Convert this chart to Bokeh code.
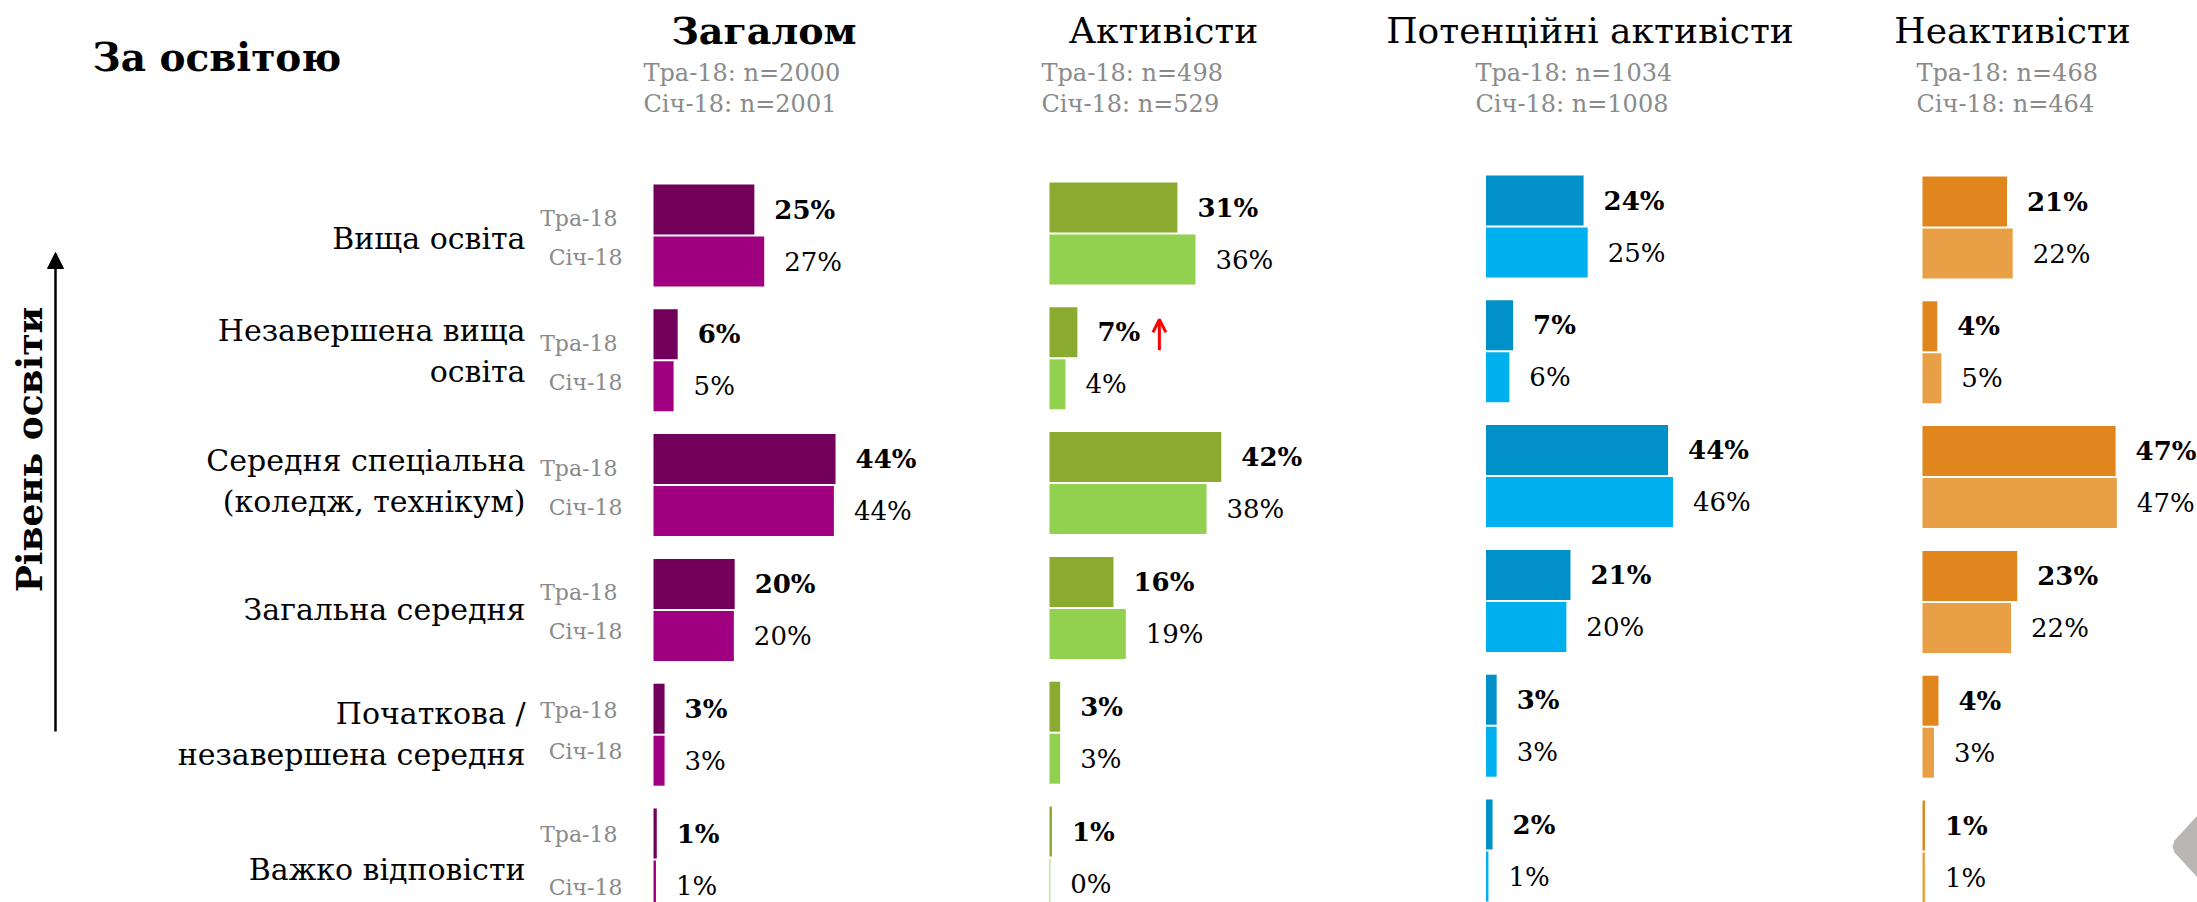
from math import pi
from bokeh.plotting import figure
from bokeh.models import Range1d, ColumnDataSource, Arrow, NormalHead, OpenHead
from bokeh.embed import file_html
from bokeh.resources import INLINE
from bokeh.core.properties import value

# ---------------- data ----------------
page_title = "За освітою"
axis_title = "Рівень освіти"
category_lines = [
    ["Вища освіта"],
    ["Незавершена вища", "освіта"],
    ["Середня спеціальна", "(коледж, технікум)"],
    ["Загальна середня"],
    ["Початкова /", "незавершена середня"],
    ["Важко відповісти"],
]
periods = ["Тра-18", "Січ-18"]
groups = ["Загалом", "Активісти", "Потенційні активісти", "Неактивісти"]
n_may = [2000, 498, 1034, 468]
n_jan = [2001, 529, 1008, 464]

overall_may = [24.6, 5.9, 44.4, 19.8, 2.7, 0.8]
overall_jan = [27.0, 4.9, 44.0, 19.6, 2.7, 0.6]
active_may = [31.2, 6.8, 41.9, 15.6, 2.6, 0.6]
active_jan = [35.6, 3.9, 38.3, 18.6, 2.6, 0.2]
potential_may = [23.8, 6.6, 44.4, 20.6, 2.6, 1.6]
potential_jan = [24.8, 5.7, 45.6, 19.6, 2.6, 0.6]
inactive_may = [20.6, 3.6, 47.1, 23.1, 3.9, 0.6]
inactive_jan = [22.0, 4.6, 47.4, 21.6, 2.8, 0.6]

# ---------------- styles / layout ----------------
FONT = "DejaVu Serif"
W, H = 2197, 902
PX = 4.1          # pixels per percent point
ROW = 124.8
BAR_H = 50
GAP = 2
LABEL_GAP = 20

may_colors = ["#72005A", "#8AAB2F", "#0091C9", "#E0861C"]
jan_colors = ["#A0007F", "#92D050", "#00B0EE", "#E99F45"]
panel_left_px = [653, 1049, 1485.5, 1922]
panel_top_px = [184, 182, 175, 176]
title_cx_px = [763.5, 1163, 1589.5, 2012]
sub_left_px = [643, 1041, 1475, 1916]
cat_nudge = [3, -9, -4, 0, -1, 10]
may_lab_dy = [-17, -17, -17, -17, -24, -25]
jan_lab_dy = [22, 22, 22, 22, 17, 28]

data = [
    (overall_may, overall_jan),
    (active_may, active_jan),
    (potential_may, potential_jan),
    (inactive_may, inactive_jan),
]


def fmt(v):
    return f"{int(v + 0.5)}%"


def X(px):
    return px / PX


p = figure(width=W, height=H, x_range=Range1d(0, X(W)),
           y_range=Range1d(H, 0), output_backend="svg",
           toolbar_location=None, min_border=0)
p.axis.visible = False
p.grid.visible = False
p.outline_line_color = None
p.background_fill_color = "white"

# page title
p.text(x=[X(92)], y=[56], text=[page_title], text_font=value(FONT),
       text_font_size="39px", text_font_style="bold", text_color="black",
       text_align="left", text_baseline="middle")

# panels
for g, (name, vals_pair) in enumerate(zip(groups, data)):
    left = X(panel_left_px[g])
    p.text(x=[X(title_cx_px[g])], y=[30], text=[name], text_font=value(FONT),
           text_font_size="38px" if g == 0 else "36px",
           text_font_style="bold" if g == 0 else "normal",
           text_color="black", text_align="center", text_baseline="middle")
    p.text(x=[X(sub_left_px[g])] * 2, y=[72.5, 103],
           text=[f"{periods[0]}: n={n_may[g]}", f"{periods[1]}: n={n_jan[g]}"],
           text_font=value(FONT), text_font_size="24px", text_color="#8A8A8A",
           text_align="left", text_baseline="middle")
    for k, vals in enumerate(vals_pair):
        ys = [panel_top_px[g] + i * ROW + k * (BAR_H + GAP) + BAR_H / 2
              for i in range(len(vals))]
        src = ColumnDataSource(dict(
            y=ys,
            left=[left] * len(vals),
            right=[left + v for v in vals],
            lx=[left + v + X(LABEL_GAP) for v in vals],
            label=[fmt(v) for v in vals],
        ))
        color = may_colors[g] if k == 0 else jan_colors[g]
        p.hbar(y="y", left="left", right="right", height=BAR_H, source=src,
               fill_color=color, line_color=None)
        p.text(x="lx", y="y", text="label", source=src, text_font=value(FONT),
               text_font_size="26px",
               text_font_style="bold" if k == 0 else "normal",
               text_color="black", text_align="left", text_baseline="middle")

# category labels and period labels (overall panel)
for i, lines in enumerate(category_lines):
    center = panel_top_px[0] + i * ROW + BAR_H + GAP / 2 + cat_nudge[i]
    n = len(lines)
    ys = [center + (j - (n - 1) / 2) * 41 for j in range(n)]
    p.text(x=[X(525)] * n, y=ys, text=lines, text_font=value(FONT),
           text_font_size="30px", text_color="black",
           text_align="right", text_baseline="middle")
    pc = panel_top_px[0] + i * ROW + BAR_H + GAP / 2
    p.text(x=[X(617), X(622)], y=[pc + may_lab_dy[i], pc + jan_lab_dy[i]],
           text=periods, text_font=value(FONT), text_font_size="22px",
           text_color="#8A8A8A", text_align="right", text_baseline="middle")

# vertical axis title and arrow
p.text(x=[X(28)], y=[449], text=[axis_title], angle=pi / 2,
       text_font=value(FONT), text_font_size="36px", text_font_style="bold",
       text_color="black", text_align="center", text_baseline="middle")
p.add_layout(Arrow(end=NormalHead(size=16, fill_color="black", line_color="black"),
                   x_start=X(55), y_start=731, x_end=X(55), y_end=252,
                   line_color="black", line_width=2.5))

# red "increase" marker next to Активісти / Незавершена вища / Тра-18
ry = panel_top_px[1] + 1 * ROW + BAR_H / 2
rx = X(panel_left_px[1]) + active_may[1] + X(82)
p.add_layout(Arrow(end=OpenHead(size=13, line_color="red", line_width=3),
                   x_start=rx, y_start=ry + 18, x_end=rx, y_end=ry - 13,
                   line_color="red", line_width=3))

# slide navigation chevron (decoration)
p.patch(x=[X(2197), X(2174), X(2172), X(2174), X(2197)],
        y=[815, 840, 846, 852, 877], fill_color="#B9B6B4", line_color=None)

open("out.html", "w").write(file_html(p, INLINE))
